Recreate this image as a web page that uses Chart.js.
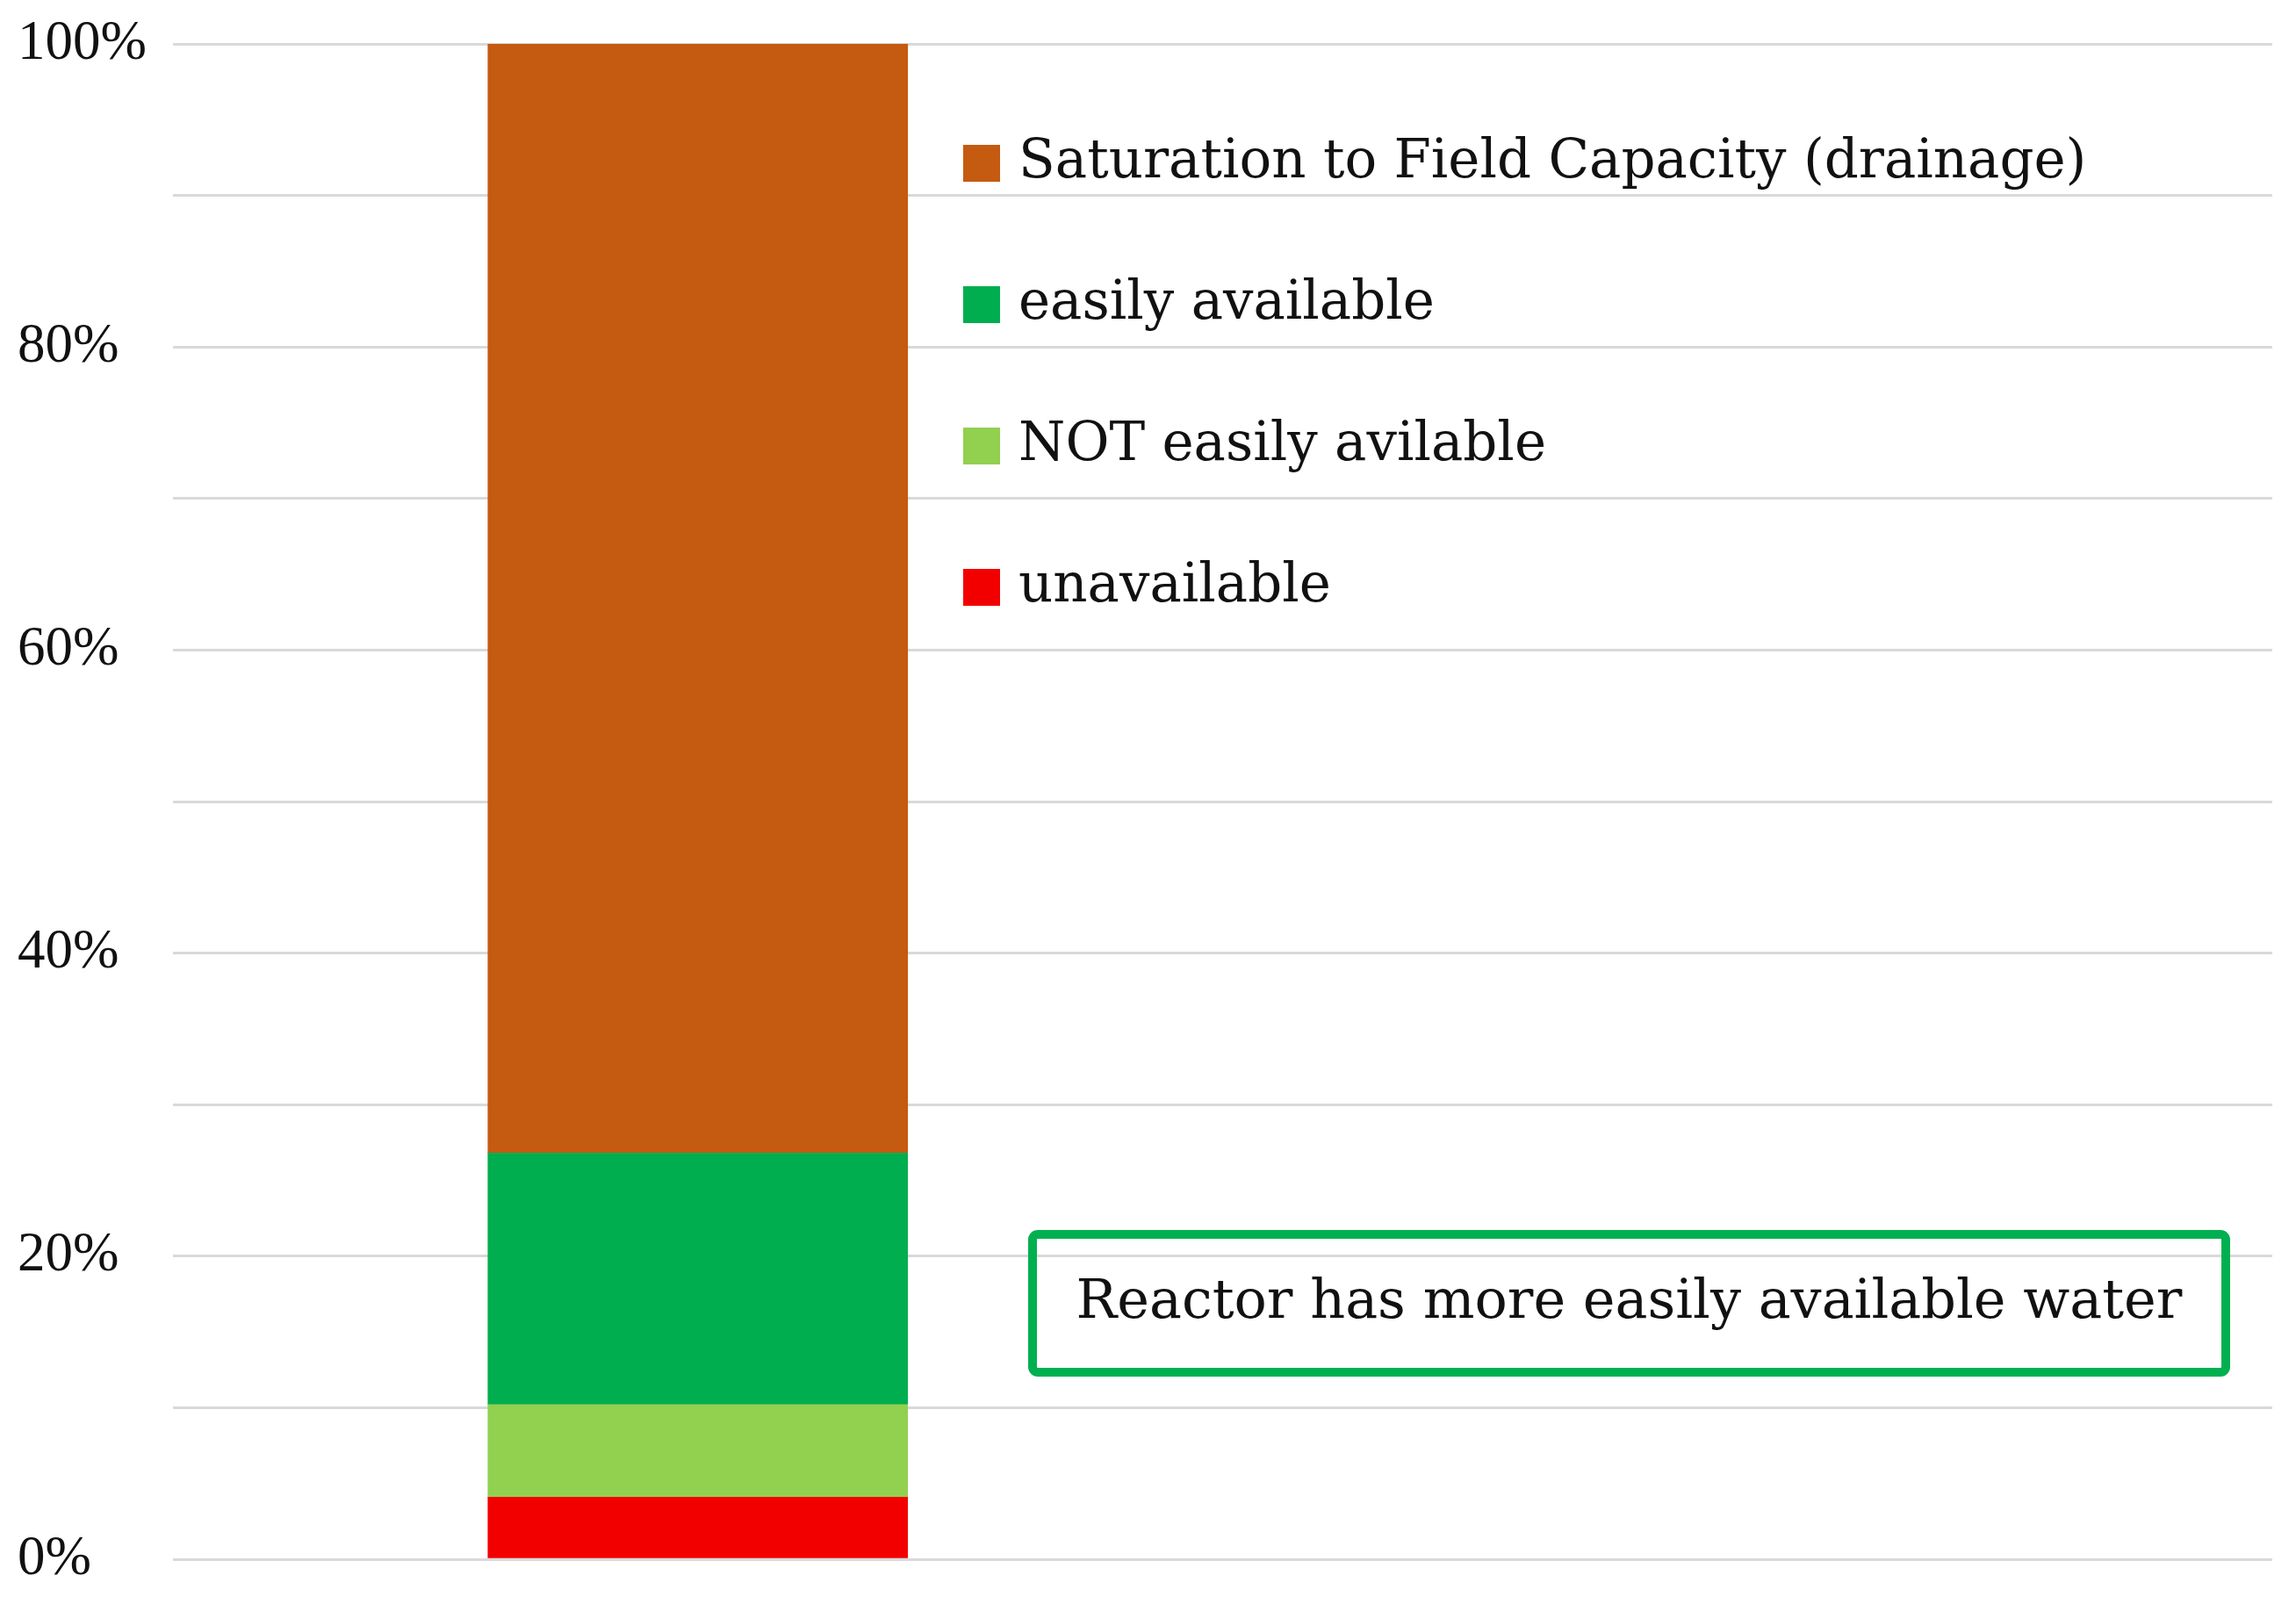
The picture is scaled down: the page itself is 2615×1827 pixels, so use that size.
<!DOCTYPE html>
<html>
<head>
<meta charset="utf-8">
<script src="https://cdn.jsdelivr.net/npm/chart.js@4.4.1/dist/chart.umd.min.js"></script>
<style>
  html, body { margin: 0; padding: 0; background: #ffffff; }
  #wrap { width: 2615px; height: 1827px; }
</style>
</head>
<body>
<div id="wrap"><canvas id="waterChart"></canvas></div>
<script>
// values (% of pore volume)
const seriesLabels = ["unavailable", "NOT easily avilable", "easily available", "Saturation to Field Capacity (drainage)"];
const seriesValues = [4.1, 6.1, 16.6, 73.2];
const seriesColors = ["#f20000", "#92d050", "#00ae4f", "#c55a11"];
const yTickLabels = [0, 20, 40, 60, 80, 100];
const noteText = "Reactor has more easily available water";

const TICK_FONT = "'Liberation Serif', serif";
const TEXT_FONT = "'DejaVu Serif', serif";

// legend drawn as a vertical list inside the plot, top series first
const sideLegend = {
  id: "sideLegend",
  afterDraw(chart) {
    const ctx = chart.ctx;
    const items = chart.data.datasets.slice().reverse();
    ctx.save();
    ctx.font = "61px " + TEXT_FONT;
    ctx.textBaseline = "middle";
    ctx.textAlign = "left";
    items.forEach((ds, i) => {
      const y = 186 + i * 161;
      ctx.fillStyle = ds.backgroundColor;
      ctx.fillRect(1097, y - 21, 42, 42);
      ctx.fillStyle = "#111111";
      ctx.fillText(ds.label, 1160, y);
    });
    ctx.restore();
  },
};

// green framed note at lower right
const noteBox = {
  id: "noteBox",
  afterDraw(chart) {
    const ctx = chart.ctx;
    const x = 1176, y = 1406, w = 1359, h = 157;
    ctx.save();
    ctx.strokeStyle = "#00b050";
    ctx.lineWidth = 10;
    ctx.beginPath();
    ctx.roundRect(x, y, w, h, 6);
    ctx.stroke();
    ctx.fillStyle = "#111111";
    ctx.font = "62px " + TEXT_FONT;
    ctx.textAlign = "center";
    ctx.textBaseline = "middle";
    ctx.fillText(noteText, x + w / 2, y + h / 2);
    ctx.restore();
  },
};

new Chart(document.getElementById("waterChart"), {
  type: "bar",
  data: {
    datasets: seriesLabels.map((label, i) => ({
      label,
      data: [{ x: 0, y: seriesValues[i] }],
      backgroundColor: seriesColors[i],
      borderWidth: 0,
      barThickness: 478,
    })),
  },
  options: {
    responsive: true,
    maintainAspectRatio: false,
    animation: false,
    layout: { padding: { left: 20, right: 27, top: 50, bottom: 51 } },
    plugins: {
      legend: { display: false },
      tooltip: { enabled: false },
    },
    scales: {
      x: {
        type: "linear",
        stacked: true,
        offset: false,
        min: -0.25,
        max: 0.75,
        display: false,
      },
      y: {
        stacked: true,
        min: 0,
        max: 100,
        afterFit: (s) => { s.width = 177; },
        grid: {
          color: "#d9d9d9",
          lineWidth: 3,
          drawTicks: false,
        },
        border: { display: false },
        ticks: {
          stepSize: 10,
          autoSkip: false,
          crossAlign: "far",
          color: "#111111",
          font: { family: TICK_FONT, size: 63 },
          callback: (v) => (yTickLabels.includes(v) ? v + "%" : ""),
        },
      },
    },
  },
  plugins: [sideLegend, noteBox],
});
</script>
</body>
</html>
